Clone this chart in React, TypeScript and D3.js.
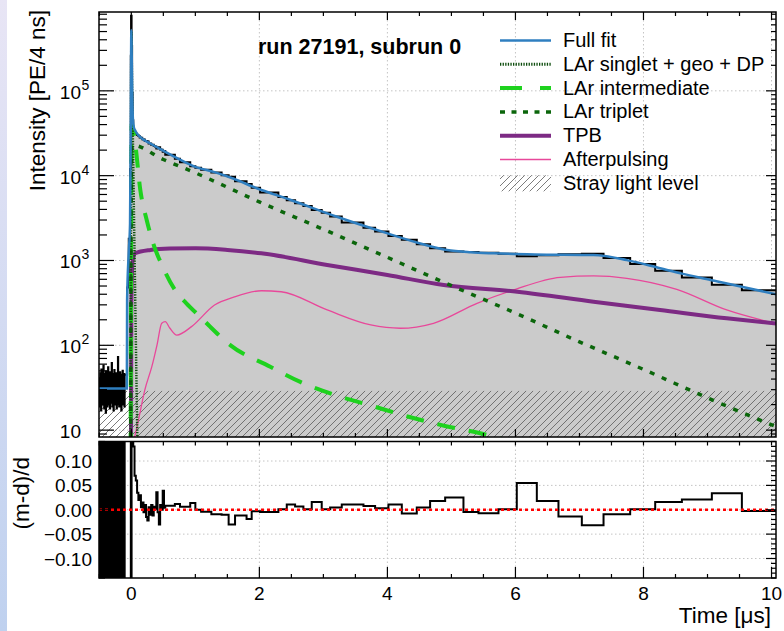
import React from 'react';
import * as d3 from 'd3';

// ---- data ----
const FONT = '"Liberation Sans", Arial, Helvetica, sans-serif';

const xMajor = [0, 2, 4, 6, 8, 10];
const decades = [10, 100, 1000, 10000, 100000];
const decadeExp = ['', '2', '3', '4', '5'];
const residTicks = [-0.1, -0.05, 0, 0.05, 0.1];
const residLabels = ['\u22120.10', '\u22120.05', '0.00', '0.05', '0.10'];

// pre-trigger noise, 100 equal bins between -0.505 and -0.1 us
const preStart = -0.505;
const preEnd = -0.1;
const preData = [
  24, 41, 19, 38, 26, 47, 21, 40, 17, 52, 25, 37, 22, 44, 20, 39, 26, 58, 23, 42,
  18, 38, 25, 46, 21, 40, 16, 49, 24, 37, 22, 43, 19, 41, 26, 55, 23, 38, 20, 45,
  25, 39, 18, 48, 22, 40, 26, 37, 21, 62, 24, 42, 19, 38, 23, 46, 17, 40, 25, 51,
  22, 37, 20, 44, 26, 39, 21, 47, 18, 41, 24, 38, 23, 73, 20, 40, 25, 43, 19, 37,
  22, 48, 26, 39, 21, 45, 17, 41, 24, 38, 23, 50, 20, 42, 25, 39, 22, 46, 19, 45];

// variable binning after the pre-trigger window
const binEdges = [-0.1, -0.065, -0.04, -0.02, -0.008, -0.004, 0.004, 0.012, 0.02, 0.03,
  0.05, 0.07, 0.09, 0.11, 0.13, 0.15, 0.17, 0.19, 0.21, 0.23, 0.25, 0.27, 0.29, 0.31, 0.33,
  0.35, 0.37, 0.39, 0.41, 0.43, 0.45, 0.47, 0.49, 0.51, 0.53,
  0.68, 0.76, 0.92, 1.0, 1.09, 1.25, 1.41, 1.52, 1.62, 1.8, 1.88, 2.011,
  2.297, 2.428, 2.558, 2.688, 2.818, 2.974, 3.105, 3.287, 3.626, 3.808, 4.016, 4.225, 4.459,
  4.667, 4.902, 5.188, 5.423, 5.735, 6.021, 6.334, 6.672, 7.037, 7.376, 7.792, 8.183, 8.6,
  9.068, 9.537, 10.07];

const binData = [45, 480, 1800, 12000, 260000, 770000, 340000, 95000, 45000,
  31900, 32000, 31100, 30100, 29400, 28200, 27900, 26800, 26600, 25600, 25700, 25300, 24000,
  23900, 23100, 23200, 22400, 22100, 20900, 21400, 21600, 20400, 20200, 19200, 19500,
  17700, 15800, 14400, 12900, 12400, 11750, 10900, 10100, 9700, 8600, 7950, 7200,
  6330, 5600, 5140, 4730, 4390, 3930, 3650, 3290, 2810, 2430, 2190, 1940, 1755, 1550, 1395,
  1280, 1256, 1230, 1200, 1123, 1154, 1185, 1200, 1070, 909, 758, 632, 517, 446];

const binResid = [-0.31, -0.3, -0.35, -0.4, 0.5, -0.3, 0.4, 0.3, 0.2,
  0.13, 0.07, 0.06, 0.035, 0.02, 0.03, 0.005, 0.015, -0.005, 0.01, -0.015, -0.022, 0.005,
  -0.01, 0.01, -0.012, 0.006, 0.002, 0.036, -0.005, -0.03, 0.01, 0.0, 0.039, 0.004,
  0.008, 0.012, 0.006, 0.014, 0.0, -0.004, -0.009, -0.01, -0.03, -0.012, -0.019, -0.003,
  -0.0045, 0.001, 0.011, 0.0065, 0.001, 0.016, 0.001, 0.0045, 0.011, 0.0078, 0.003, 0.011,
  -0.0078, 0.0045, 0.018, 0.025, -0.0045, -0.007, 0.001, 0.055, 0.018, -0.014, -0.032,
  -0.009, 0.001, 0.016, 0.021, 0.034, -0.0025];

const fitT = [-0.505, -0.07, -0.066, -0.04, -0.02, -0.01, -0.004, 0.0, 0.006, 0.014, 0.025,
  0.04, 0.057, 0.1, 0.16, 0.29, 0.475, 0.7, 1.0, 1.3, 1.6, 1.96, 2.48, 3.2, 3.99, 4.5, 4.93,
  5.3, 5.66, 6.3, 7.22, 7.74, 8.26, 8.6, 9.05, 9.57, 10.07];
const fitV = [31, 31, 340, 1260, 2750, 30000, 240000, 520000, 260000, 90000, 46000,
  37000, 34600, 30500, 27600, 24100, 20100, 16300, 12700, 11000, 9200, 7100, 5200, 3300, 2100,
  1600, 1330, 1250, 1215, 1180, 1160, 1010, 810, 700, 590, 483, 400];

const singT = [-0.014, -0.006, 0.0, 0.012, 0.025, 0.04, 0.055, 0.07, 0.085, 0.1];
const singV = [1, 3000, 500000, 100000, 25000, 4000, 700, 120, 22, 4];

const intermT = [-0.012, -0.003, 0.005, 0.06, 0.14, 0.24, 0.34, 0.49, 0.7, 0.86, 1.1, 1.23,
  1.55, 2.17, 2.64, 3.18, 3.8, 4.33, 4.9, 5.45, 5.8];
const intermV = [1, 2000, 40000, 24000, 6800, 3000, 1600, 845, 428, 313, 208, 166, 100, 56,
  37, 26, 18.9, 14.4, 11.2, 9.2, 7.8];

const tripT = [-0.012, -0.002, 0.008, 0.5, 1, 2, 3, 4, 5, 6, 7, 8, 9, 10.07];
const tripV = [1, 5000, 23000, 15500, 10800, 4900, 2330, 1090, 505, 240, 110, 52, 24, 11];

const tpbT = [-0.008, 0.0, 0.02, 0.06, 0.3, 0.6, 1.0, 1.5, 2.03, 3.06, 4.0, 4.88, 6.03,
  7.22, 8.26, 9.3, 10.07];
const tpbV = [1, 300, 1000, 1216, 1330, 1380, 1390, 1330, 1215, 886, 675, 514, 429, 327,
  261, 208, 181];

const apT = [0.03, 0.11, 0.21, 0.32, 0.4, 0.475, 0.53, 0.6, 0.71, 0.94, 1.3, 1.6, 2.03,
  2.34, 3.06, 3.74, 4.2, 4.72, 5.4, 5.97, 6.7, 7.22, 7.74, 8.52, 9.3, 10.07];
const apV = [7, 13, 29.7, 56, 100, 182, 190, 160, 132, 166, 299, 370, 440, 428, 261, 174,
  159, 182, 313, 449, 634, 657, 617, 457, 261, 180];

const strayLevel = 29;

const legendLabels = ['Full fit', 'LAr singlet + geo + DP', 'LAr intermediate', 'LAr triplet',
  'TPB', 'Afterpulsing', 'Stray light level'];

// ---- layout ----
const X0 = 99, X1 = 776;
const T0 = 12, T1 = 437;
const B0 = 441.5, B1 = 578;

const C_FIT = '#2f7fc0';
const C_SING = '#0d4d0d';
const C_INT = '#1ed21e';
const C_TRIP = '#0b660b';
const C_TPB = '#7d2a84';
const C_AP = '#e8489a';

const lineStyles = [
  { stroke: C_FIT, width: 2.5, dash: undefined },
  { stroke: C_SING, width: 3, dash: '1.3 1.3' },
  { stroke: C_INT, width: 4, dash: '22 18' },
  { stroke: C_TRIP, width: 3.5, dash: '5 6.5' },
  { stroke: C_TPB, width: 4, dash: undefined },
  { stroke: C_AP, width: 1.5, dash: undefined },
];

const zip = (t: number[], v: number[]) => t.map((tt, i) => [tt, v[i]] as [number, number]);

export default function App() {
  const x = d3.scaleLinear().domain([-0.505, 10.07]).range([X0, X1]);
  const y = d3.scaleLog().domain([8.3, 8.5e5]).range([T1, T0]);
  const yr = d3.scaleLinear().domain([-0.14, 0.14]).range([B1, B0]);

  const nPre = preData.length;
  const preEdges = d3.range(nPre + 1).map(i => preStart + (preEnd - preStart) * i / nPre);
  const edges = preEdges.concat(binEdges.slice(1));
  const data = preData.concat(binData);
  const resid = preData.map(d => (fitV[0] - d) / d).concat(binResid);

  const stepPts = (vals: number[]) => {
    const pts = vals.map((v, i) => [edges[i], v] as [number, number]);
    pts.push([edges[edges.length - 1], vals[vals.length - 1]]);
    return pts;
  };

  const stepTop = d3.line<[number, number]>().x(d => x(d[0])).y(d => y(d[1])).curve(d3.curveStepAfter);
  const stepBot = d3.line<[number, number]>().x(d => x(d[0])).y(d => yr(d[1])).curve(d3.curveStepAfter);
  const smooth = d3.line<[number, number]>().x(d => x(d[0])).y(d => y(d[1])).curve(d3.curveMonotoneX);

  const dataPts = stepPts(data);
  const k0 = edges.indexOf(0.004);
  const fillPts = dataPts.slice(k0);
  const grayArea = d3.area<[number, number]>().x(d => x(d[0])).y0(T1).y1(d => y(d[1])).curve(d3.curveStepAfter);

  const xMinor = d3.range(-0.5, 10.01, 0.5).filter(v => !xMajor.includes(v));
  const yMinor: number[] = [];
  [1, 10, 100, 1000, 10000, 100000].forEach(dcd => {
    for (let m = 2; m <= 9; m++) {
      const v = dcd * m;
      if (v > 8.3 && v < 8.5e5) yMinor.push(v);
    }
  });
  const rMinor = d3.range(-14, 15).map(i => i / 100).filter(v => Math.abs(Math.round(v * 100)) % 5 !== 0);

  const gridProps = { stroke: '#c4c4c4', strokeWidth: 1, strokeDasharray: '1.5 2.5' };

  const legendY = (i: number) => 40.5 + i * 23.8;

  return (
    <svg width={784} height={631} style={{ position: 'absolute', left: 0, top: 0, background: '#fff' }}
      fontFamily={FONT}>
      <defs>
        <clipPath id="clipTop"><rect x={X0} y={T0} width={X1 - X0} height={T1 - T0} /></clipPath>
        <clipPath id="clipBot"><rect x={X0} y={B0} width={X1 - X0} height={B1 - B0} /></clipPath>
        <pattern id="hatch" width={7} height={7} patternUnits="userSpaceOnUse">
          <path d="M-1,1 l2,-2 M0,7 l7,-7 M6,8 l2,-2" stroke="#5a5a5a" strokeWidth={0.8} />
        </pattern>
        <linearGradient id="strip" x1="0" y1="0" x2="0" y2="1">
          <stop offset="0" stopColor="#e8e5f5" />
          <stop offset="1" stopColor="#bfd1ef" />
        </linearGradient>
      </defs>

      <rect x={0} y={0} width={784} height={631} fill="#fff" />
      <rect x={0} y={0} width={7} height={631} fill="url(#strip)" />

      {/* ---------- top panel ---------- */}
      <g>
        {xMajor.map(v => (
          <line key={'gx' + v} x1={x(v)} x2={x(v)} y1={T0} y2={T1} {...gridProps} />
        ))}
        {decades.map(v => (
          <line key={'gy' + v} x1={X0} x2={X1} y1={y(v)} y2={y(v)} {...gridProps} />
        ))}
      </g>
      <g clipPath="url(#clipTop)">
        <path d={grayArea(fillPts) || ''} fill="#cbcbcb" />
        <rect x={X0} y={y(strayLevel)} width={X1 - X0} height={T1 - y(strayLevel)} fill="url(#hatch)" />
        <path d={stepTop(dataPts) || ''} fill="none" stroke="#000" strokeWidth={2} />
        <path d={smooth(zip(apT, apV)) || ''} fill="none" stroke={C_AP} strokeWidth={1.3} />
        <path d={smooth(zip(tpbT, tpbV)) || ''} fill="none" stroke={C_TPB} strokeWidth={4} />
        <path d={smooth(zip(intermT, intermV)) || ''} fill="none" stroke={C_INT} strokeWidth={4}
          strokeDasharray="18 14" />
        <path d={smooth(zip(tripT, tripV)) || ''} fill="none" stroke={C_TRIP} strokeWidth={3.5}
          strokeDasharray="5 8" />
        <path d={smooth(zip(singT, singV)) || ''} fill="none" stroke={C_SING} strokeWidth={2.5}
          strokeDasharray="1.3 1.3" />
        <path d={smooth(zip(fitT, fitV)) || ''} fill="none" stroke={C_FIT} strokeWidth={2.5} />
      </g>

      {/* frame + ticks, top panel */}
      <rect x={X0} y={T0} width={X1 - X0} height={T1 - T0} fill="none" stroke="#000" strokeWidth={1.5} />
      {xMajor.map(v => (
        <g key={'tx' + v}>
          <line x1={x(v)} x2={x(v)} y1={T1} y2={T1 - 8} stroke="#000" strokeWidth={1.2} />
          <line x1={x(v)} x2={x(v)} y1={T0} y2={T0 + 8} stroke="#000" strokeWidth={1.2} />
        </g>
      ))}
      {xMinor.map(v => (
        <g key={'tmx' + v}>
          <line x1={x(v)} x2={x(v)} y1={T1} y2={T1 - 4} stroke="#000" strokeWidth={1.2} />
          <line x1={x(v)} x2={x(v)} y1={T0} y2={T0 + 4} stroke="#000" strokeWidth={1.2} />
        </g>
      ))}
      {decades.map(v => (
        <g key={'ty' + v}>
          <line x1={X0} x2={X0 + 15} y1={y(v)} y2={y(v)} stroke="#000" strokeWidth={1.2} />
          <line x1={X1} x2={X1 - 10} y1={y(v)} y2={y(v)} stroke="#000" strokeWidth={1.2} />
        </g>
      ))}
      {yMinor.map(v => (
        <g key={'tmy' + v}>
          <line x1={X0} x2={X0 + 8} y1={y(v)} y2={y(v)} stroke="#000" strokeWidth={1.2} />
          <line x1={X1} x2={X1 - 5} y1={y(v)} y2={y(v)} stroke="#000" strokeWidth={1.2} />
        </g>
      ))}
      {decades.map((v, i) => (
        <g key={'ly' + v} fontSize={19}>
          <text x={81} y={y(v) + 8} textAnchor="end">10</text>
          {decadeExp[i] && <text x={81.5} y={y(v) - 1} fontSize={14}>{decadeExp[i]}</text>}
        </g>
      ))}
      <text transform={`translate(45,10) rotate(-90)`} textAnchor="end" fontSize={22.5}>
        Intensity [PE/4 ns]
      </text>
      <text x={258} y={54} fontSize={21.5} fontWeight="bold">run 27191, subrun 0</text>

      {/* legend */}
      {legendLabels.map((lab, i) => (
        <g key={'lg' + i}>
          {i < 6 ? (
            <line x1={500} x2={551} y1={legendY(i)} y2={legendY(i)} stroke={lineStyles[i].stroke}
              strokeWidth={lineStyles[i].width} strokeDasharray={lineStyles[i].dash} />
          ) : (
            <rect x={500} y={legendY(i) - 8} width={51} height={16} fill="url(#hatch)" />
          )}
          <text x={563} y={legendY(i) + 6.5} fontSize={20}>{lab}</text>
        </g>
      ))}

      {/* ---------- bottom panel ---------- */}
      <g>
        {xMajor.map(v => (
          <line key={'bgx' + v} x1={x(v)} x2={x(v)} y1={B0} y2={B1} {...gridProps} />
        ))}
        {residTicks.map(v => (
          <line key={'bgy' + v} x1={X0} x2={X1} y1={yr(v)} y2={yr(v)} {...gridProps} />
        ))}
      </g>
      <g clipPath="url(#clipBot)">
        <path d={stepBot(stepPts(resid)) || ''} fill="none" stroke="#000" strokeWidth={2} />
        <line x1={X0} x2={X1} y1={yr(0)} y2={yr(0)} stroke="#ff0000" strokeWidth={2.5}
          strokeDasharray="3 3" />
      </g>
      <rect x={X0} y={B0} width={X1 - X0} height={B1 - B0} fill="none" stroke="#000" strokeWidth={1.5} />
      {xMajor.map(v => (
        <g key={'bx' + v}>
          <line x1={x(v)} x2={x(v)} y1={B1} y2={B1 - 11} stroke="#000" strokeWidth={1.2} />
          <line x1={x(v)} x2={x(v)} y1={B0} y2={B0 + 4} stroke="#000" strokeWidth={1.2} />
        </g>
      ))}
      {xMinor.map(v => (
        <g key={'bmx' + v}>
          <line x1={x(v)} x2={x(v)} y1={B1} y2={B1 - 4} stroke="#000" strokeWidth={1.2} />
          <line x1={x(v)} x2={x(v)} y1={B0} y2={B0 + 4} stroke="#000" strokeWidth={1.2} />
        </g>
      ))}
      {residTicks.map(v => (
        <g key={'by' + v}>
          <line x1={X0} x2={X0 + 12} y1={yr(v)} y2={yr(v)} stroke="#000" strokeWidth={1.2} />
          <line x1={X1} x2={X1 - 10} y1={yr(v)} y2={yr(v)} stroke="#000" strokeWidth={1.2} />
        </g>
      ))}
      {rMinor.map(v => (
        <g key={'bmy' + v}>
          <line x1={X0} x2={X0 + 6} y1={yr(v)} y2={yr(v)} stroke="#000" strokeWidth={1.2} />
          <line x1={X1} x2={X1 - 5} y1={yr(v)} y2={yr(v)} stroke="#000" strokeWidth={1.2} />
        </g>
      ))}
      {residTicks.map((v, i) => (
        <text key={'bly' + v} x={92} y={yr(v) + 7} textAnchor="end" fontSize={19}>{residLabels[i]}</text>
      ))}
      {xMajor.map(v => (
        <text key={'blx' + v} x={x(v)} y={600} textAnchor="middle" fontSize={19}>{v}</text>
      ))}
      <text transform={`translate(29,457) rotate(-90)`} textAnchor="end" fontSize={22.5}>(m-d)/d</text>
      <text x={771} y={623} textAnchor="end" fontSize={22.5}>Time [{'\u03bc'}s]</text>
    </svg>
  );
}
